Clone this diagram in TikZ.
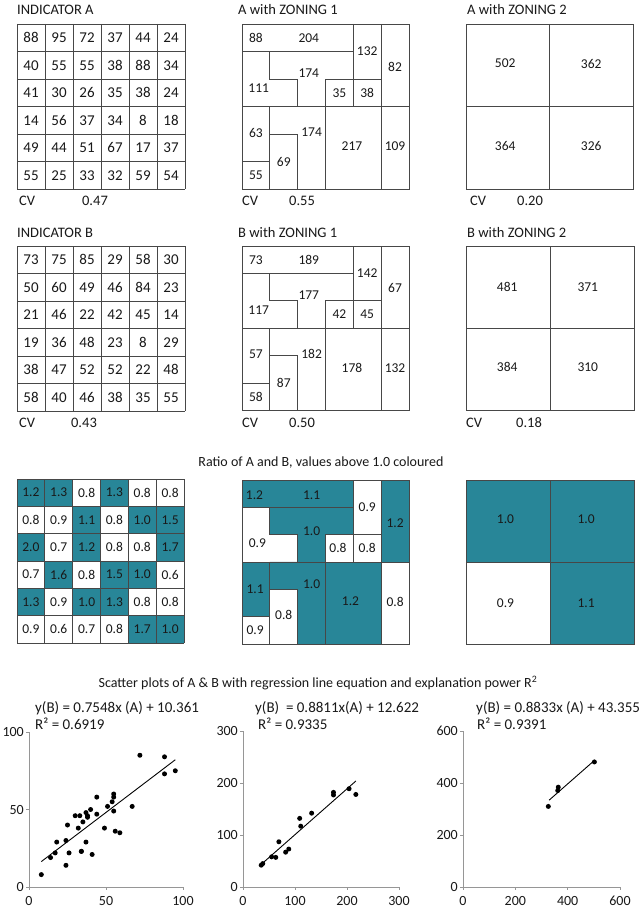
\documentclass[tikz,border=0pt]{standalone}
\usepackage{fontspec}
\setmainfont{Carlito}
\definecolor{teal1}{RGB}{40,134,152}
\definecolor{txt}{RGB}{25,25,25}
\definecolor{axgray}{RGB}{150,150,150}
\newcommand{\zonelines}{%
 \draw[gl] (0,0) rectangle (6,6);
 \draw[gl] (0,1) -- (4,1);
 \draw[gl] (4,0) -- (4,3);
 \draw[gl] (5,0) -- (5,6);
 \draw[gl] (1,1) -- (1,2) -- (2,2) -- (2,3);
 \draw[gl] (3,3) -- (3,2) -- (5,2);
 \draw[gl] (0,3) -- (6,3);
 \draw[gl] (1,3) -- (1,6);
 \draw[gl] (0,5) -- (1,5);
 \draw[gl] (1,4) -- (2,4) -- (2,6);
 \draw[gl] (3,3) -- (3,6);
}
\newcommand{\gridlines}{%
 \foreach \k in {0,...,6} {\draw[gl] (\k,0) -- (\k,6); \draw[gl] (0,\k) -- (6,\k);}
}
\begin{document}
\begin{tikzpicture}[x=1pt,y=-1pt,
  gl/.style={draw=black!72,line width=0.8pt},
  ttl/.style={anchor=west,font=\fontsize{14.5}{16}\selectfont,text=txt,inner sep=0pt},
  cvv/.style={font=\fontsize{14.5}{16}\selectfont,text=txt,inner sep=0pt},
  num/.style={font=\fontsize{15}{17}\selectfont,text=txt,inner sep=0pt},
  znum/.style={font=\fontsize{13.5}{15}\selectfont,text=txt,inner sep=0pt},
  rnum/.style={font=\fontsize{13.5}{15}\selectfont,text=txt,inner sep=0pt},
  eq/.style={anchor=base west,font=\fontsize{15}{17}\selectfont,text=txt,inner sep=0pt},
  big/.style={anchor=base,font=\fontsize{14}{16}\selectfont,text=txt,inner sep=0pt},
  axl/.style={font=\fontsize{14}{16}\selectfont,text=txt,inner sep=0pt},
  ax/.style={draw=axgray,line width=0.8pt},
  reg/.style={draw=black,line width=0.9pt},
  dotc/.style={fill=black}]
\fill[white] (0,0) rectangle (640,909);
\path[use as bounding box] (0,0) rectangle (640,909);

% ---------------- Titles row A
\node[ttl] (tA) at (17,9.5) {INDICATOR A};
\node[ttl] (tAz1) at (238,9.5) {A with ZONING 1};
\node[ttl] (tAz2) at (467,9.5) {A with ZONING 2};
% ---------------- Indicator A grid
\begin{scope}[shift={(17,24)},x=28pt,y=-27.5pt]
 \gridlines
 \foreach \row [count=\r from 0] in {{88,95,72,37,44,24},{40,55,55,38,88,34},{41,30,26,35,38,24},{14,56,37,34,8,18},{49,44,51,67,17,37},{55,25,33,32,59,54}}{
  \foreach \v [count=\c from 0] in \row {\node[num] at (\c+0.5,\r+0.5) {\v};}}
\end{scope}
% ---------------- A zoning 1
\begin{scope}[shift={(242,24)},x=27.83pt,y=-27.5pt]
 \zonelines
 \foreach \px/\py/\t in {0.5/0.5/88, 2.4/0.5/204, 4.5/1.0/132, 5.5/1.55/82, 2.4/1.8/174, 0.6/2.35/111, 3.5/2.5/35, 4.5/2.5/38, 0.5/3.95/63, 2.5/3.95/174, 3.95/4.45/217, 5.5/4.45/109, 1.5/5.0/69, 0.5/5.5/55}
  {\node[znum] at (\px,\py) {\t};}
\end{scope}
% ---------------- A zoning 2
\begin{scope}[shift={(466,24)},x=83.5pt,y=-82.5pt]
 \draw[gl] (0,0) rectangle (2,2); \draw[gl] (1,0) -- (1,2); \draw[gl] (0,1) -- (2,1);
 \node[znum] at (0.47,0.48) {502}; \node[znum] at (1.5,0.48) {362};
 \node[znum] at (0.47,1.48) {364}; \node[znum] at (1.5,1.48) {326};
\end{scope}
% CV row A
\node[ttl] (cvA) at (19,200.5) {CV}; \node[cvv] (cvAv) at (95,200.5) {0.47};
\node[ttl] (cvAz1) at (242,200.5) {CV}; \node[cvv] (cvAz1v) at (302,200.5) {0.55};
\node[ttl] (cvAz2) at (470,200.5) {CV}; \node[cvv] (cvAz2v) at (530,200.5) {0.20};

% ---------------- Titles row B
\node[ttl] (tB) at (17,233) {INDICATOR B};
\node[ttl] (tBz1) at (238,233) {B with ZONING 1};
\node[ttl] (tBz2) at (467,233) {B with ZONING 2};
\begin{scope}[shift={(17,246)},x=28pt,y=-27.5pt]
 \gridlines
 \foreach \row [count=\r from 0] in {{73,75,85,29,58,30},{50,60,49,46,84,23},{21,46,22,42,45,14},{19,36,48,23,8,29},{38,47,52,52,22,48},{58,40,46,38,35,55}}{
  \foreach \v [count=\c from 0] in \row {\node[num] at (\c+0.5,\r+0.5) {\v};}}
\end{scope}
\begin{scope}[shift={(242,246)},x=27.83pt,y=-27.4pt]
 \zonelines
 \foreach \px/\py/\t in {0.5/0.5/73, 2.4/0.5/189, 4.5/1.0/142, 5.5/1.55/67, 2.4/1.8/177, 0.6/2.35/117, 3.5/2.5/42, 4.5/2.5/45, 0.5/3.95/57, 2.5/3.95/182, 3.95/4.45/178, 5.5/4.45/132, 1.5/5.0/87, 0.5/5.5/58}
  {\node[znum] at (\px,\py) {\t};}
\end{scope}
\begin{scope}[shift={(466,246)},x=84pt,y=-82pt]
 \draw[gl] (0,0) rectangle (2,2); \draw[gl] (1,0) -- (1,2); \draw[gl] (0,1) -- (2,1);
 \node[znum] at (0.49,0.5) {481}; \node[znum] at (1.45,0.5) {371};
 \node[znum] at (0.49,1.48) {384}; \node[znum] at (1.45,1.48) {310};
\end{scope}
\node[ttl] (cvB) at (19,423) {CV}; \node[cvv] (cvBv) at (84,423) {0.43};
\node[ttl] (cvBz1) at (242,423) {CV}; \node[cvv] (cvBz1v) at (302,423) {0.50};
\node[ttl] (cvBz2) at (466,423) {CV}; \node[cvv] (cvBz2v) at (529,423) {0.18};

% ---------------- Ratio
\node[big] (tR) at (321,466.5) {Ratio of A and B, values above 1.0 coloured};
\begin{scope}[shift={(17,479)},x=27.83pt,y=-27.33pt]
 \foreach \row [count=\r from 0] in {{1.2/1,1.3/1,0.8/0,1.3/1,0.8/0,0.8/0},{0.8/0,0.9/0,1.1/1,0.8/0,1.0/1,1.5/1},{2.0/1,0.7/0,1.2/1,0.8/0,0.8/0,1.7/1},{0.7/0,1.6/1,0.8/0,1.5/1,1.0/1,0.6/0},{1.3/1,0.9/0,1.0/1,1.3/1,0.8/0,0.8/0},{0.9/0,0.6/0,0.7/0,0.8/0,1.7/1,1.0/1}}{
  \foreach \v/\f [count=\c from 0] in \row {
   \ifnum\f=1 \fill[teal1] (\c,\r) rectangle (\c+1,\r+1); \fi
   \node[rnum] at (\c+0.5,\r+0.5) {\v};}}
 \gridlines
\end{scope}
\begin{scope}[shift={(242,480)},x=27.83pt,y=-27.33pt]
 \fill[teal1] (0,0) rectangle (1,1);
 \fill[teal1] (1,0) rectangle (4,1);
 \fill[teal1] (5,0) rectangle (6,3);
 \fill[teal1] (1,1) -- (4,1) -- (4,2) -- (3,2) -- (3,3) -- (2,3) -- (2,2) -- (1,2) -- cycle;
 \fill[teal1] (0,3) rectangle (1,5);
 \fill[teal1] (1,3) -- (3,3) -- (3,6) -- (2,6) -- (2,4) -- (1,4) -- cycle;
 \fill[teal1] (3,3) rectangle (5,6);
 \zonelines
 \foreach \px/\py/\t in {0.45/0.55/1.2, 2.5/0.55/1.1, 4.5/1.0/0.9, 5.5/1.57/1.2, 2.5/1.87/1.0, 0.55/2.3/0.9, 3.45/2.5/0.8, 4.5/2.5/0.8, 0.47/4.0/1.1, 2.5/3.8/1.0, 3.9/4.45/1.2, 5.5/4.45/0.8, 1.5/4.95/0.8, 0.47/5.5/0.9}
  {\node[rnum] at (\px,\py) {\t};}
\end{scope}
\begin{scope}[shift={(466,480)},x=84pt,y=-82pt]
 \fill[teal1] (0,0) rectangle (2,1);
 \fill[teal1] (1,1) rectangle (2,2);
 \draw[gl] (0,0) rectangle (2,2); \draw[gl] (1,0) -- (1,2); \draw[gl] (0,1) -- (2,1);
 \node[rnum] at (0.47,0.48) {1.0}; \node[rnum] at (1.43,0.48) {1.0};
 \node[rnum] at (0.47,1.5) {0.9}; \node[rnum] at (1.43,1.5) {1.1};
\end{scope}

% ---------------- Scatter plots
\node[big] (tS) at (318,687.5) {Scatter plots of A \& B with regression line equation and explanation power R\textsuperscript{2}};

% plot 1
\node[eq] (e1) at (35,712.5) {y(B) = 0.7548x (A) + 10.361};
\node[eq] (r1) at (35,729.5) {R² = 0.6919};
\begin{scope}[shift={(29,887)},x=1.54pt,y=1.55pt]
 \draw[ax] (0,100) -- (0,0) -- (100,0);
 \foreach \t in {0,50,100} {
  \draw[ax] (0,\t) -- ++(-3pt,0pt);
  \draw[ax] (\t,0) -- ++(0pt,-3pt);
  \node[axl,anchor=east,xshift=-5pt] at (0,\t) {\t};
  \node[axl,yshift=-14pt] at (\t,0) {\t};}
 \foreach \a/\b in {88/73,95/75,72/85,37/29,44/58,24/30,40/50,55/60,55/49,38/46,88/84,34/23,41/21,30/46,26/22,35/42,38/45,24/14,14/19,56/36,37/48,34/23,8/8,18/29,49/38,44/47,51/52,67/52,17/22,55/58,25/40,33/46,32/38,59/35,54/55}
  {\fill[dotc] (\a,\b) circle[radius=2.5pt];}
 \draw[reg] (8,16.4) -- (95,82.1);
\end{scope}

% plot 2
\node[eq] (e2) at (255,712.5) {y(B) \ = 0.8811x(A) + 12.622};
\node[eq] (r2) at (258,729.5) {R² = 0.9335};
\begin{scope}[shift={(243,887)},x=0.52pt,y=0.52pt]
 \draw[ax] (0,300) -- (0,0) -- (300,0);
 \foreach \t in {0,100,200,300} {
  \draw[ax] (0,\t) -- ++(-3pt,0pt);
  \draw[ax] (\t,0) -- ++(0pt,-3pt);
  \node[axl,anchor=east,xshift=-5pt] at (0,\t) {\t};
  \node[axl,yshift=-14pt] at (\t,0) {\t};}
 \foreach \a/\b in {88/73,204/189,132/142,82/67,111/117,174/177,35/42,38/45,63/57,55/58,69/87,174/182,217/178,109/132}
  {\fill[dotc] (\a,\b) circle[radius=2.5pt];}
 \draw[reg] (33,41.7) -- (217,203.8);
\end{scope}

% plot 3
\node[eq] (e3) at (476,712.5) {y(B) = 0.8833x (A) + 43.355};
\node[eq] (r3) at (477,729.5) {R² = 0.9391};
\begin{scope}[shift={(463,887)},x=0.2617pt,y=0.26pt]
 \draw[ax] (0,600) -- (0,0) -- (600,0);
 \foreach \t in {0,200,400,600} {
  \draw[ax] (0,\t) -- ++(-3pt,0pt);
  \draw[ax] (\t,0) -- ++(0pt,-3pt);
  \node[axl,anchor=east,xshift=-5pt] at (0,\t) {\t};
  \node[axl,yshift=-14pt] at (\t,0) {\t};}
 \foreach \a/\b in {502/481,362/371,364/384,326/310}
  {\fill[dotc] (\a,\b) circle[radius=2.5pt];}
 \draw[reg] (329,334) -- (504,488.5);
\end{scope}
\end{tikzpicture}
\end{document}
